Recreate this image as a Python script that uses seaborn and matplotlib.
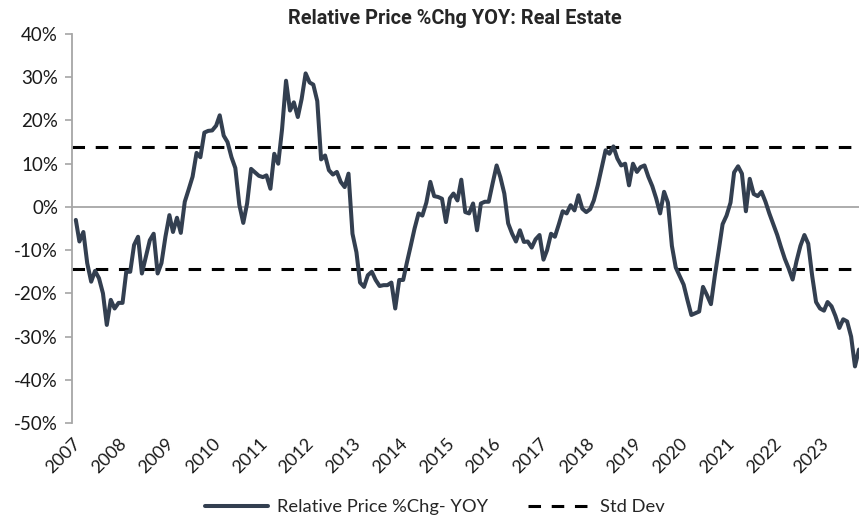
import pandas as pd
import matplotlib
matplotlib.use("Agg")
import matplotlib.pyplot as plt
from matplotlib.ticker import FuncFormatter, MultipleLocator
import seaborn as sns

# ============== DATA ==============
# monthly relative price %chg YOY, Jan 2007 .. Oct 2023
rel_price_yoy = [
    -3.0, -8.0, -5.8, -13.0, -17.3, -14.8, -16.5, -20.0, -27.3, -21.5, -23.5, -22.2,   # 2007
    -22.2, -15.0, -15.0, -8.8, -6.9, -15.4, -11.5, -7.7, -6.2, -15.4, -13.0, -6.9,     # 2008
    -1.9, -5.8, -2.5, -6.0, 1.2, 4.0, 7.0, 12.5, 11.5, 17.2, 17.6, 17.7,               # 2009
    18.8, 21.2, 16.5, 15.0, 11.5, 9.0, 0.5, -3.7, 0.8, 8.8, 8.0, 7.2,                  # 2010
    6.9, 7.3, 4.2, 12.3, 10.0, 18.0, 29.2, 22.3, 24.2, 20.8, 25.0, 30.9,               # 2011
    28.8, 28.3, 24.5, 11.0, 11.9, 8.5, 7.5, 8.1, 5.8, 4.6, 7.7, -6.2,                  # 2012
    -10.5, -17.5, -18.5, -15.8, -15.0, -16.9, -18.3, -18.1, -18.1, -17.5, -23.5, -16.9, # 2013
    -16.9, -13.0, -9.0, -5.0, -1.5, -2.0, 1.0, 5.8, 2.5, 2.3, 1.9, -3.5,               # 2014
    2.0, 3.1, 1.5, 6.3, -1.2, -1.5, 0.8, -5.4, 0.8, 1.2, 1.2, 5.5,                     # 2015
    9.6, 6.9, 3.1, -3.8, -6.2, -8.0, -5.4, -8.1, -8.0, -9.4, -7.5, -6.5,               # 2016
    -12.2, -10.0, -6.2, -6.9, -4.0, -1.0, -1.5, 0.4, -0.8, 2.7, -0.4, -1.2,            # 2017
    -0.5, 1.5, 5.0, 9.0, 13.1, 12.3, 14.0, 11.2, 9.6, 10.0, 5.0, 10.0,                 # 2018
    8.1, 9.2, 9.6, 7.0, 4.8, 2.0, -1.5, 3.5, 1.0, -9.0, -14.0, -16.0,                  # 2019
    -18.0, -21.5, -25.0, -24.6, -24.2, -18.5, -20.4, -22.5, -16.0, -10.0, -4.0, -2.0,  # 2020
    1.0, 8.0, 9.4, 7.7, -1.0, 6.5, 3.0, 2.5, 3.5, 1.2, -1.5, -4.0,                     # 2021
    -6.5, -9.2, -12.0, -14.2, -16.8, -12.6, -9.0, -6.5, -8.5, -16.0, -22.0, -23.5,     # 2022
    -24.0, -22.0, -23.0, -25.2, -28.0, -26.0, -26.5, -30.0, -36.9, -33.0,              # 2023
]
std_dev_upper = 13.9
std_dev_lower = -14.4
year_labels = list(range(2007, 2024))

dates = pd.date_range(start="2007-01-31", periods=len(rel_price_yoy), freq="ME")
df = pd.DataFrame({"date": dates, "value": rel_price_yoy})

# ============== PLOT ==============
sns.set_theme(style="white")
plt.rcParams['font.family'] = ['Lato', 'DejaVu Sans']

line_color = "#333f50"
axis_grey = "#a6a6a6"

fig = plt.figure(figsize=(8.61, 5.2), dpi=100)
ax = fig.add_axes([0.0836, 0.1865, 0.914, 0.748])

ax.axhline(0, color=axis_grey, lw=1.3, zorder=1)
sns.lineplot(data=df, x="date", y="value", color=line_color, linewidth=2.9,
             ax=ax, label="Relative Price %Chg- YOY", zorder=3)
ax.axhline(std_dev_upper, color="black", lw=2.2, ls=(0, (4.1, 3.5)), label="Std Dev", zorder=2)
ax.axhline(std_dev_lower, color="black", lw=2.2, ls=(0, (4.1, 3.5)), zorder=2)

ax.set_ylim(-50, 40)
ax.yaxis.set_major_locator(MultipleLocator(10))
ax.yaxis.set_major_formatter(FuncFormatter(lambda v, p: f"{v:.0f}%"))
ax.set_xlim(pd.Timestamp("2007-01-01"), dates[-1])
ax.set_xticks([pd.Timestamp(f"{y}-01-01") for y in year_labels])
ax.set_xticklabels([str(y) for y in year_labels], rotation=45, ha="right",
                   rotation_mode="anchor")
ax.set_xlabel("")
ax.set_ylabel("")

for side in ["top", "right", "bottom"]:
    ax.spines[side].set_visible(False)
ax.spines["left"].set_color(axis_grey)
ax.spines["left"].set_linewidth(1.3)
ax.tick_params(axis="y", left=True, length=5, width=1.2, color=axis_grey,
               labelsize=13.5, labelcolor="#1a1a1a", pad=5)
ax.tick_params(axis="x", bottom=False, labelsize=13, labelcolor="#1a1a1a", pad=3)

fig.text(0.528, 1 - 19 / 520, "Relative Price %Chg YOY: Real Estate",
         ha="center", va="center", fontsize=14.3, fontweight="bold",
         family=["Liberation Sans Narrow", "Roboto", "DejaVu Sans"])

handles, labels = ax.get_legend_handles_labels()
ax.get_legend().remove()
fig.legend(handles, labels, loc="center", bbox_to_anchor=(0.505, 0.025),
           ncol=2, frameon=False, fontsize=13.2, handlelength=3.4, columnspacing=2.2,
           handletextpad=0.5)

fig.savefig("out.png", dpi=100)
